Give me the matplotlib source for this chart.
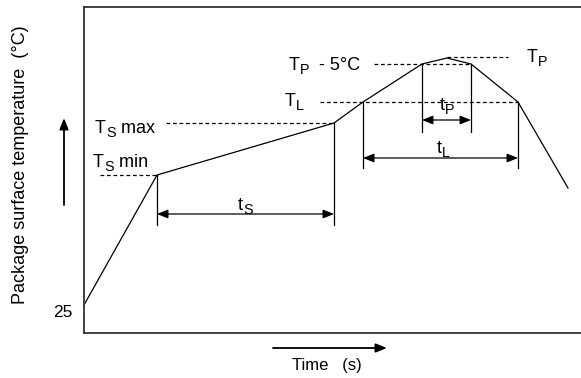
import matplotlib
matplotlib.use('Agg')
import matplotlib.pyplot as plt

plt.rcParams['font.family'] = ['Liberation Sans', 'DejaVu Sans']

# ---- data (arbitrary time / temperature units) ----
time = [0, 73, 250, 279, 338, 363, 387, 434, 484]
temp = [28, 158, 210, 231, 269, 275, 269, 231, 145]
ytick_values = [28]
ytick_labels = ['25']

# indices of key points in the profile
I_TSMIN, I_TSMAX, I_TL1, I_TP5L, I_TP, I_TP5R, I_TL2 = 1, 2, 3, 4, 5, 6, 7

fig = plt.figure(figsize=(5.81, 3.78), dpi=100)
ax = fig.add_axes([84 / 581, 45 / 378, 498 / 581, 326.5 / 378])
ax.set_xlim(0, 498)
ax.set_ylim(0, 326.5)

for s in ['left', 'top', 'bottom']:
    ax.spines[s].set_linewidth(1.3)
    ax.spines[s].set_color('#333333')
ax.spines['right'].set_visible(False)

ax.set_xticks([])
ax.set_yticks(ytick_values)
ax.set_yticklabels(ytick_labels, fontsize=12.5, va='top')
ax.tick_params(axis='y', length=0, pad=8.5)

# profile
ax.plot(time, temp, color='black', lw=0.9, solid_joinstyle='miter')

dash = dict(color='black', lw=0.9, linestyle=(0, (3, 2.2)))
# dashed level lines
ax.plot([16, time[I_TSMIN]], [temp[I_TSMIN]] * 2, **dash)
ax.plot([82, time[I_TSMAX]], [temp[I_TSMAX]] * 2, **dash)
ax.plot([236, time[I_TL2]], [temp[I_TL1]] * 2, **dash)
ax.plot([290, time[I_TP5R]], [temp[I_TP5L]] * 2, **dash)
ax.plot([time[I_TP], 424], [temp[I_TP] + 1] * 2, **dash)

vl = dict(color='black', lw=0.9)
# vertical extension lines
ax.plot([time[I_TSMIN]] * 2, [temp[I_TSMIN], 108], **vl)
ax.plot([time[I_TSMAX]] * 2, [temp[I_TSMAX], 108], **vl)
ax.plot([time[I_TL1]] * 2, [temp[I_TL1], 165], **vl)
ax.plot([time[I_TL2]] * 2, [temp[I_TL2], 165], **vl)
ax.plot([time[I_TP5L]] * 2, [temp[I_TP5L], 201], **vl)
ax.plot([time[I_TP5R]] * 2, [temp[I_TP5R], 201], **vl)

arr = dict(arrowstyle='<|-|>,head_length=0.55,head_width=0.22', color='black',
           lw=0.9, shrinkA=0, shrinkB=0, mutation_scale=12)
ax.annotate('', xy=(time[I_TSMIN], 119), xytext=(time[I_TSMAX], 119), arrowprops=arr)
ax.annotate('', xy=(time[I_TL1], 175), xytext=(time[I_TL2], 175), arrowprops=arr)
ax.annotate('', xy=(time[I_TP5L], 213), xytext=(time[I_TP5R], 213), arrowprops=arr)


def label(x, y, parts, fs=13, sub_ratio=0.8, drop=2.2):
    """Draw text made of (string, is_subscript) parts, left-aligned at (x, y) baseline."""
    first = ax.text(x, y, parts[0][0], fontsize=fs, va='baseline', ha='left')
    prev = first
    for txt, sub in parts[1:]:
        size = fs * sub_ratio if sub else fs
        dy = -drop if sub else 0
        prev = ax.annotate(txt, xy=(1, 0), xycoords=(prev, first),
                           xytext=(0, dy), textcoords='offset points',
                           fontsize=size, va='bottom', ha='left')
    return first


label(9, 166, [('T', 0), ('S', 1), (' min', 0)])
label(11, 200, [('T', 0), ('S', 1), (' max', 0)])
label(201, 227, [('T', 0), ('L', 1)])
label(205, 263, [('T', 0), ('P', 1), ('  - 5°C', 0)])
label(443, 271, [('T', 0), ('P', 1)])
label(154, 123, [('t', 0), ('S', 1)])
label(353, 180, [('t', 0), ('L', 1)])
label(356, 223, [('t', 0), ('P', 1)])

# axis titles with arrows
ax.set_ylabel('Package surface temperature  (°C)', fontsize=13, va='center')
ax.yaxis.set_label_coords((20 - 84) / 498, (333 - 165) / 326.5)
ax.set_xlabel('Time   (s)', fontsize=12, va='top')
ax.xaxis.set_label_coords((327 - 84) / 498, (333 - 358) / 326.5)

ax_arr = dict(arrowstyle='-|>,head_length=0.55,head_width=0.22', color='black',
              lw=1.3, shrinkA=0, shrinkB=0, mutation_scale=12)
ax.annotate('', xy=((64 - 84) / 498, (333 - 118) / 326.5),
            xytext=((64 - 84) / 498, (333 - 205) / 326.5),
            xycoords='axes fraction', textcoords='axes fraction',
            arrowprops=ax_arr, annotation_clip=False)
ax.annotate('', xy=((387 - 84) / 498, (333 - 348) / 326.5),
            xytext=((273 - 84) / 498, (333 - 348) / 326.5),
            xycoords='axes fraction', textcoords='axes fraction',
            arrowprops=ax_arr, annotation_clip=False)

fig.savefig('out.png', dpi=100)
